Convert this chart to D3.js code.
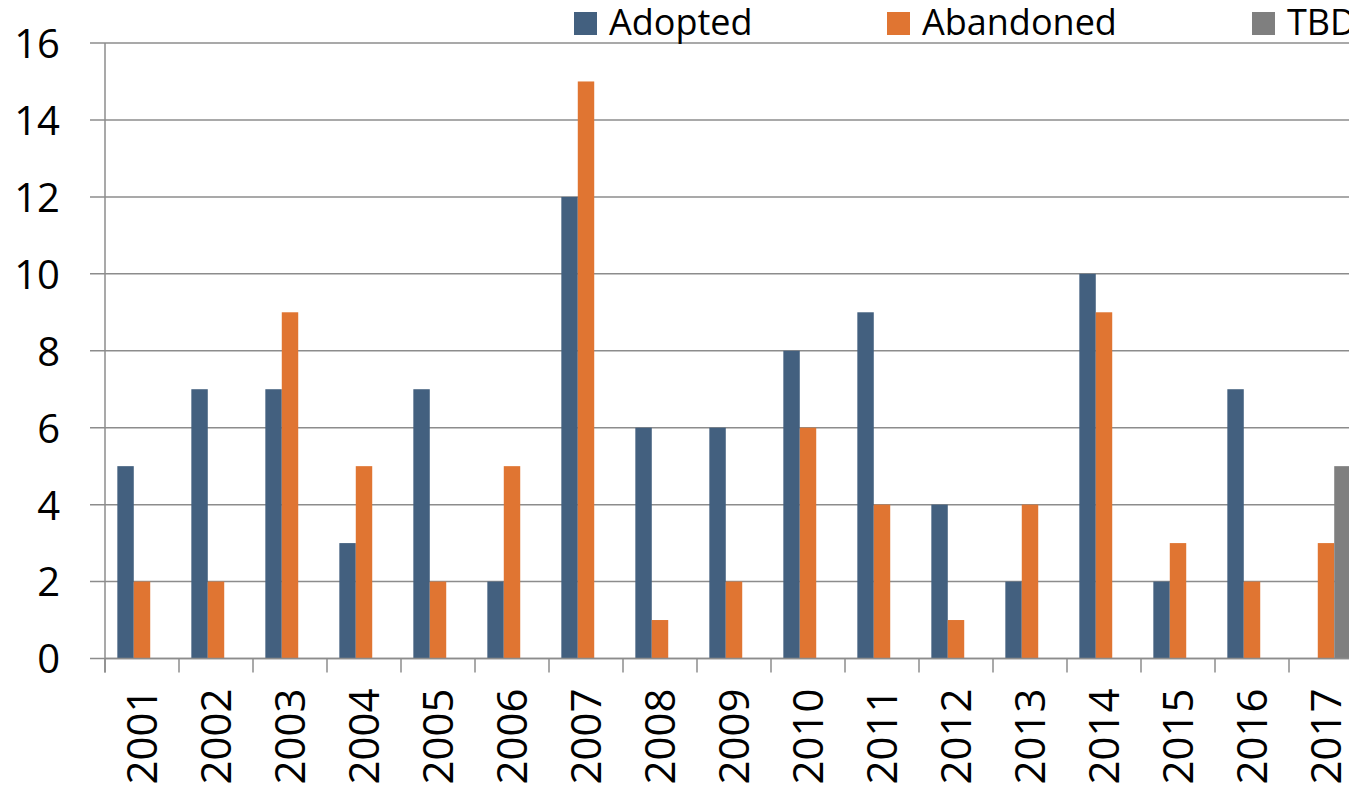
<!DOCTYPE html>
<html>
<head>
<meta charset="utf-8">
<script src="https://cdn.jsdelivr.net/npm/d3@7"></script>
<style>
  body { margin: 0; background: #fff; overflow: hidden; }
  text { font-family: "Open Sans", sans-serif; fill: #000; }
</style>
</head>
<body>
<div id="chart"></div>
<script>
// data
var years = ["2001","2002","2003","2004","2005","2006","2007","2008","2009",
             "2010","2011","2012","2013","2014","2015","2016","2017"];
var adopted   = [5, 7, 7, 3, 7, 2, 12, 6, 6, 8, 9, 4, 2, 10, 2, 7, 0];
var abandoned = [2, 2, 9, 5, 2, 5, 15, 1, 2, 6, 4, 1, 4, 9, 3, 2, 3];
var tbd       = [0, 0, 0, 0, 0, 0, 0, 0, 0, 0, 0, 0, 0, 0, 0, 0, 5];
var seriesNames = ["Adopted", "Abandoned", "TBD"];
var seriesColors = ["#43607f", "#e07532", "#7f7f7f"];
var yTicks = [0, 2, 4, 6, 8, 10, 12, 14, 16];

var seriesVals = [adopted, abandoned, tbd];

// plot area (right side runs past the window, like the original crop)
var margin = {top: 43, left: 105},
  width = 74 * years.length,
  height = 658.5 - margin.top;

var svg = d3.select("#chart")
  .append("svg")
    .attr("width", 1349)
    .attr("height", 788)
  .append("g")
    .attr("transform", "translate(" + margin.left + "," + margin.top + ")");

var x0 = d3.scaleBand()
  .domain(years)
  .range([0, width])
  .padding(0);

var x1 = d3.scaleBand()
  .domain(seriesNames)
  .range([0, x0.bandwidth()])
  .paddingInner(0)
  .paddingOuter(0.75);

var y = d3.scaleLinear()
  .domain([0, 16])
  .range([height, 0]);

// gridlines (start 15px left of the axis, like the tick marks)
svg.append("g")
  .attr("class", "grid")
  .selectAll("line")
  .data(yTicks)
  .enter().append("line")
    .attr("x1", -15)
    .attr("x2", width)
    .attr("y1", function(d) { return y(d); })
    .attr("y2", function(d) { return y(d); })
    .attr("stroke", "#8c8c8c")
    .attr("stroke-width", 1.5);

// y axis
var yAxis = svg.append("g")
  .call(d3.axisLeft(y).tickValues(yTicks).tickSize(0).tickPadding(45));
yAxis.select(".domain").remove();
yAxis.selectAll("text")
  .style("font-family", "'Open Sans', sans-serif")
  .style("font-size", "40px")
  .attr("dy", "0.36em");

svg.append("line")
  .attr("x1", 0).attr("x2", 0)
  .attr("y1", 0).attr("y2", height + 14)
  .attr("stroke", "#8c8c8c")
  .attr("stroke-width", 1.5);

// bars
var groups = svg.selectAll(".year")
  .data(years)
  .enter().append("g")
    .attr("class", "year")
    .attr("transform", function(d) { return "translate(" + x0(d) + ",0)"; });

groups.selectAll("rect")
  .data(function(d, i) {
    return seriesNames.map(function(s, j) { return {s: s, v: seriesVals[j][i], c: seriesColors[j]}; });
  })
  .enter().append("rect")
    .filter(function(d) { return d.v > 0; })
    .attr("x", function(d) { return x1(d.s); })
    .attr("y", function(d) { return y(d.v); })
    .attr("width", x1.bandwidth())
    .attr("height", function(d) { return height - y(d.v); })
    .attr("fill", function(d) { return d.c; });

// x axis: ticks at the category boundaries
var xAxis = svg.append("g")
  .attr("transform", "translate(0," + height + ")");
xAxis.append("line")
  .attr("x1", 0).attr("x2", width)
  .attr("stroke", "#8c8c8c").attr("stroke-width", 1.5);
xAxis.selectAll(".tick")
  .data(years)
  .enter().append("line")
    .attr("x1", function(d) { return x0(d); })
    .attr("x2", function(d) { return x0(d); })
    .attr("y1", 0).attr("y2", 14)
    .attr("stroke", "#8c8c8c").attr("stroke-width", 1.5);
xAxis.selectAll(".lbl")
  .data(years)
  .enter().append("text")
    .attr("transform", function(d) {
      return "translate(" + (x0(d) + x0.bandwidth() / 2) + ",30) rotate(-90)";
    })
    .attr("dy", "0.36em")
    .style("text-anchor", "end")
    .style("font-size", "42px")
    .text(function(d) { return d; });

// legend
var legendX = [574, 887, 1252];
var legend = d3.select("svg").append("g");
seriesNames.forEach(function(s, i) {
  legend.append("rect")
    .attr("x", legendX[i]).attr("y", 12)
    .attr("width", 23).attr("height", 23)
    .attr("fill", seriesColors[i]);
  legend.append("text")
    .attr("x", legendX[i] + 35).attr("y", 35)
    .style("font-size", "36px")
    .text(s);
});
</script>
</body>
</html>
